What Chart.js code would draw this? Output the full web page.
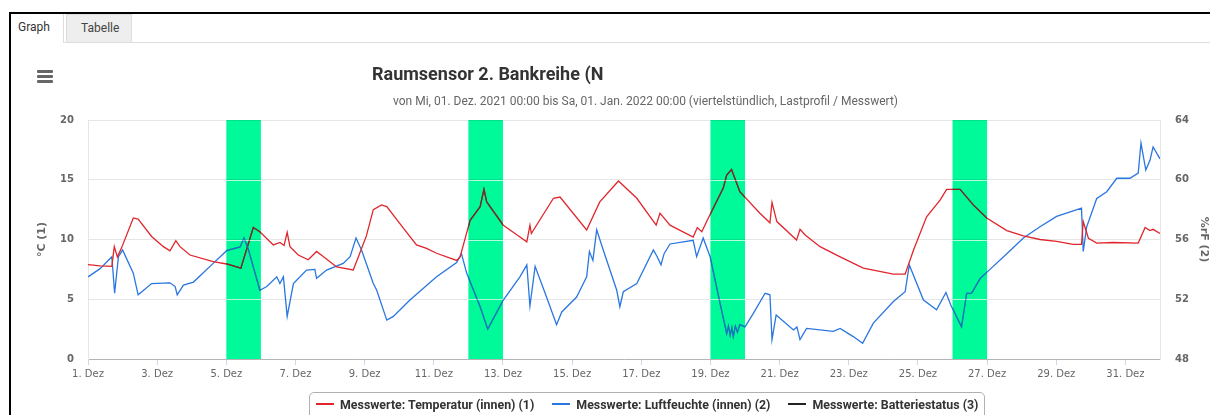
<!DOCTYPE html>
<html><head><meta charset="utf-8">
<script src="https://cdn.jsdelivr.net/npm/chart.js@4.4.0/dist/chart.umd.min.js"></script>
<style>
html,body{margin:0;padding:0;background:#fff;width:1210px;height:415px;overflow:hidden;}
#wrap{position:relative;width:1210px;height:415px;overflow:hidden;font-family:Roboto,"Noto Sans",sans-serif;}
#c{position:absolute;left:0;top:0;}
.frame{position:absolute;left:9px;top:12px;width:1205px;height:410px;border-left:2px solid #000;border-top:2px solid #000;pointer-events:none;}
.tabline{position:absolute;left:63px;top:42px;width:1150px;height:1px;background:#ddd;}
.tab{position:absolute;top:14px;height:28px;line-height:27px;font-size:12px;color:#333;box-sizing:border-box;}
.tab.active{left:11px;width:53px;background:#fff;border-right:1px solid #ddd;padding-left:7px;}
.tab.other{left:66px;width:66px;background:#eee;border:1px solid #ddd;border-bottom:none;padding-left:14px;color:#444;}
.burger{position:absolute;left:37px;width:16px;height:3px;background:#666;border-radius:1px;}
.title{position:absolute;left:372px;top:63px;font-size:18px;font-weight:700;color:#333;white-space:nowrap;}
.subclip{position:absolute;left:393px;top:95px;width:560px;height:14px;overflow:hidden;}
.subtitle{position:absolute;left:0;top:-2px;font-size:12px;line-height:16px;color:#666;white-space:nowrap;}
.legend{position:absolute;left:309px;top:392px;width:676px;height:40px;border:1px solid #b0b0b0;border-radius:5px;box-sizing:border-box;display:flex;align-items:flex-start;padding-left:6px;}
.li{display:flex;align-items:center;height:22px;margin-right:18px;font-size:12.4px;font-weight:700;color:#333;white-space:nowrap;}
.li span.sw{display:inline-block;width:18px;height:1.5px;margin-right:6px;}
</style></head>
<body><div id="wrap">
<canvas id="c" width="1210" height="415"></canvas>
<div class="frame"></div>
<div class="tabline"></div>
<div class="tab active">Graph</div>
<div class="tab other">Tabelle</div>
<div class="burger" style="top:70px"></div>
<div class="burger" style="top:75px"></div>
<div class="burger" style="top:80px"></div>
<div class="title">Raumsensor 2. Bankreihe (N</div>
<div class="subclip"><div class="subtitle">von Mi, 01. Dez. 2021 00:00 bis Sa, 01. Jan. 2022 00:00 (viertelstündlich, Lastprofil / Messwert)</div></div>
<div class="legend" id="legend"></div>
</div>
<script>
// ---- data (x = days since 1. Dez 2021 00:00) ----
const tempDays = [0.00,0.35,0.69,0.76,0.85,0.97,1.31,1.45,1.84,2.18,2.37,2.54,2.66,2.95,3.62,4.01,4.42,4.78,4.97,5.36,5.55,5.67,5.76,5.84,6.08,6.37,6.61,6.81,7.19,7.67,7.82,8.05,8.25,8.49,8.64,9.12,9.50,9.79,10.08,10.66,10.76,11.05,11.34,11.45,11.53,12.01,12.40,12.69,12.78,12.82,13.46,13.65,14.42,14.80,15.34,15.87,16.43,16.54,16.60,16.83,17.50,17.62,17.75,17.89,18.37,18.47,18.61,18.85,19.43,19.72,19.78,19.92,20.49,20.59,20.73,21.17,21.75,22.42,23.29,23.63,23.87,24.25,24.64,24.83,25.22,25.60,25.99,26.57,27.05,27.53,28.01,28.49,28.73,28.78,28.93,29.17,29.65,30.37,30.57,30.71,30.80,31.00];
const tempVals = [7.9,7.8,7.75,9.4,8.55,9.3,11.8,11.7,10.25,9.4,9.05,9.9,9.4,8.7,8.15,7.95,7.6,11.0,10.65,9.55,9.75,9.5,10.6,9.4,8.7,8.3,9.0,8.55,7.7,7.45,8.55,10.3,12.5,12.9,12.75,10.95,9.55,9.25,8.85,8.25,8.55,11.6,12.75,14.2,13.15,11.2,10.4,9.8,11.2,10.5,13.45,13.55,10.8,13.15,14.9,13.45,11.2,12.2,12.0,11.2,10.2,11.0,10.65,11.5,14.3,15.4,15.85,14.0,12.2,11.4,13.1,11.5,9.95,10.85,10.4,9.4,8.55,7.6,7.1,7.1,9.1,11.9,13.3,14.2,14.2,12.9,11.8,10.75,10.3,10.0,9.85,9.6,9.6,11.5,10.1,9.7,9.75,9.7,11.0,10.75,10.85,10.5];
const humDays = [0.00,0.35,0.69,0.77,0.88,1.00,1.31,1.45,1.84,2.37,2.52,2.58,2.76,3.05,3.62,4.01,4.40,4.51,4.63,4.97,5.17,5.46,5.55,5.65,5.76,5.94,6.32,6.56,6.61,6.90,7.38,7.58,7.75,7.91,8.25,8.35,8.64,8.83,9.31,10.08,10.66,10.80,10.95,11.34,11.56,12.01,12.49,12.69,12.78,12.93,13.26,13.55,13.70,14.13,14.42,14.50,14.60,14.71,14.90,15.29,15.38,15.48,15.87,16.35,16.46,16.57,16.66,16.83,17.50,17.60,17.79,17.99,18.28,18.47,18.52,18.57,18.62,18.66,18.72,18.78,18.85,19.00,19.24,19.58,19.72,19.78,19.90,20.40,20.50,20.59,20.78,21.55,21.75,22.13,22.40,22.71,23.29,23.63,23.75,24.16,24.54,24.81,24.97,25.02,25.26,25.41,25.55,25.80,25.99,26.57,27.05,27.53,28.01,28.73,28.78,28.88,29.17,29.46,29.75,30.13,30.37,30.45,30.59,30.71,30.80,31.00];
const humVals = [53.5,54.05,54.85,52.4,54.85,55.3,53.75,52.3,53.05,53.1,52.85,52.3,52.95,53.15,54.4,55.25,55.5,56.1,55.4,52.6,52.85,53.5,53.05,53.5,50.85,53.05,53.95,54.0,53.4,53.95,54.4,54.85,56.1,55.3,53.05,52.6,50.6,50.85,51.95,53.5,54.45,55.05,53.75,51.5,50.0,51.95,53.5,54.3,51.55,54.2,52.15,50.3,51.15,52.15,53.5,55.2,54.6,56.65,55.3,52.6,51.5,52.5,53.05,55.3,54.85,54.3,55.05,55.7,55.95,54.85,56.1,54.85,51.7,49.7,50.2,49.6,50.1,49.5,50.2,49.8,50.3,50.15,51.05,52.4,52.3,49.3,50.95,49.95,50.15,49.3,50.05,49.85,50.05,49.5,49.05,50.4,51.85,52.5,54.3,51.95,51.3,52.45,51.5,51.3,50.15,52.4,52.4,53.4,53.8,55.05,56.1,56.85,57.55,58.1,55.2,56.85,58.75,59.2,60.1,60.1,60.45,62.45,60.65,61.3,62.2,61.4];
const batteryDays = [];
const batteryVals = [];
const seriesLabels = ['Messwerte: Temperatur (innen) (1)','Messwerte: Luftfeuchte (innen) (2)','Messwerte: Batteriestatus (3)'];
const seriesColors = ['#e0262c','#2a76e0','#222222'];
const weekendStarts = [4, 11, 18, 25];
const xTickDays = [0,2,4,6,8,10,12,14,16,18,20,22,24,26,28,30];
const xTickLabels = ['1. Dez','3. Dez','5. Dez','7. Dez','9. Dez','11. Dez','13. Dez','15. Dez','17. Dez','19. Dez','21. Dez','23. Dez','25. Dez','27. Dez','29. Dez','31. Dez'];
const leftTicks = [0,5,10,15,20];
const rightTicks = [48,52,56,60,64];

const toPts = (xs, ys) => xs.map((d,i)=>({x:d,y:ys[i]}));

const bandPlugin = {
  id:'bands',
  afterDatasetsDraw(chart){
    const {ctx, chartArea, scales:{x, yT}} = chart;
    const {top,bottom} = chartArea;
    ctx.save();
    ctx.globalCompositeOperation = 'multiply';
    ctx.fillStyle = '#00fa9a';
    weekendStarts.forEach(s=>{
      const a = x.getPixelForValue(s), b = x.getPixelForValue(s+1);
      ctx.fillRect(a, top, b-a, bottom-top);
    });
    ctx.globalCompositeOperation = 'source-over';
    ctx.strokeStyle = 'rgba(255,255,255,0.7)';
    ctx.lineWidth = 1;
    weekendStarts.forEach(s=>{
      const a = x.getPixelForValue(s), b = x.getPixelForValue(s+1);
      leftTicks.slice(1,-1).forEach(v=>{
        const y = Math.round(yT.getPixelForValue(v))+0.5;
        ctx.beginPath(); ctx.moveTo(a,y); ctx.lineTo(b,y); ctx.stroke();
      });
      ctx.save();
      ctx.beginPath(); ctx.rect(a, top, b-a, bottom-top); ctx.clip();
      ctx.globalAlpha = 0.6;
      chart.data.datasets.forEach((ds,i)=>{
        const meta = chart.getDatasetMeta(i);
        if (meta.dataset) meta.dataset.draw(ctx, chartArea);
      });
      ctx.restore();
    });
    ctx.restore();
  }
};

const lblFont = {family:'"DejaVu Sans"', size:10};
new Chart(document.getElementById('c'), {
  type:'line',
  data:{datasets:[
    {label:seriesLabels[0], data:toPts(tempDays,tempVals), borderColor:seriesColors[0], borderWidth:1.3, pointRadius:0, yAxisID:'yT', tension:0},
    {label:seriesLabels[1], data:toPts(humDays,humVals), borderColor:seriesColors[1], borderWidth:1.3, pointRadius:0, yAxisID:'yH', tension:0},
    {label:seriesLabels[2], data:toPts(batteryDays,batteryVals), borderColor:seriesColors[2], borderWidth:1.3, pointRadius:0, yAxisID:'yB'}
  ]},
  options:{
    responsive:false, animation:false, devicePixelRatio:1,
    layout:{padding:{top:120,left:0,right:0,bottom:0}},
    plugins:{legend:{display:false}, tooltip:{enabled:false}},
    scales:{
      x:{type:'linear', min:0, max:31,
        afterBuildTicks:s=>{s.ticks = xTickDays.map(v=>({value:v}));},
        ticks:{callback:(v,i)=>xTickLabels[i], font:lblFont, color:'#666', padding:3, maxRotation:0, autoSkip:false},
        grid:{drawOnChartArea:false, tickLength:6, color:'#ccd6eb'},
        border:{color:'#b4b4b4'},
        afterFit:s=>{s.height=56;}},
      yT:{position:'left', min:0, max:20,
        afterBuildTicks:s=>{s.ticks = leftTicks.map(v=>({value:v}));},
        ticks:{font:{family:'"DejaVu Sans"', size:10, weight:'bold'}, color:'#666', padding:14},
        grid:{color:'#e6e6e6', drawTicks:false},
        border:{color:'#e6e6e6'},
        title:{display:true, text:'°C (1)', color:'#666', font:{family:'"DejaVu Sans"', size:11, weight:'bold'}, padding:{top:36,bottom:0}},
        afterFit:s=>{s.width=88;}},
      yH:{position:'right', min:48, max:64,
        afterBuildTicks:s=>{s.ticks = rightTicks.map(v=>({value:v}));},
        ticks:{font:{family:'"DejaVu Sans"', size:10, weight:'bold'}, color:'#666', padding:15},
        grid:{drawOnChartArea:false, drawTicks:false},
        border:{color:'#e6e6e6'},
        title:{display:true, text:'%rF (2)', color:'#666', font:{family:'"DejaVu Sans"', size:11, weight:'bold'}, padding:{top:0,bottom:0}},
        afterFit:s=>{s.width=50;}},
      yB:{display:false, min:0, max:100}
    }
  },
  plugins:[bandPlugin]
});

const lg = document.getElementById('legend');
seriesLabels.forEach((t,i)=>{
  const d = document.createElement('div'); d.className='li';
  const sw = document.createElement('span'); sw.className='sw'; sw.style.background=seriesColors[i];
  d.appendChild(sw); d.appendChild(document.createTextNode(t)); lg.appendChild(d);
});
</script>
</body></html>
